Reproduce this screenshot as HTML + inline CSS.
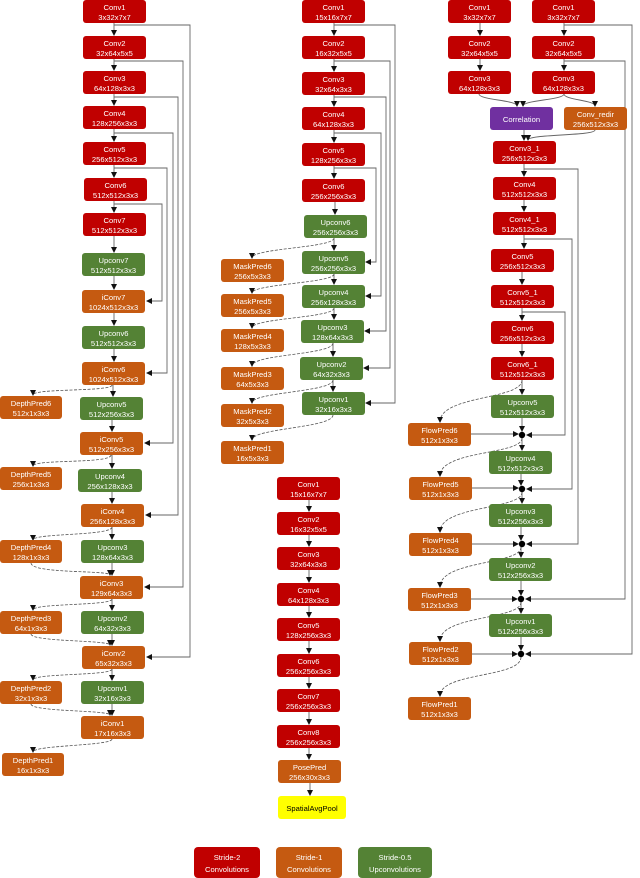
<!DOCTYPE html><html><head><meta charset="utf-8"><style>
html,body{margin:0;padding:0;background:#fff;width:640px;height:878px;overflow:hidden}
svg{display:block}
text{font-family:"Liberation Sans",sans-serif;font-size:7.6px;fill:#fff;text-anchor:middle}
.r{fill:#c00000}.o{fill:#c55a11}.g{fill:#548235}.p{fill:#7030a0}.y{fill:#ffff00}
.l{fill:none;stroke:#666;stroke-width:0.9;marker-end:url(#a)}
.d{fill:none;stroke:#555;stroke-width:0.8;stroke-dasharray:3,1.5;marker-end:url(#a)}
</style></head><body>
<svg width="640" height="878" viewBox="0 0 640 878" xmlns="http://www.w3.org/2000/svg">
<defs><marker id="a" markerWidth="6" markerHeight="6" refX="5" refY="3" orient="auto" markerUnits="userSpaceOnUse"><path d="M0,0 L6,3 L0,6z" fill="#111"/></marker></defs>

<!-- LEFT connectors -->
<path class="l" d="M114,23V35"/><path class="l" d="M114,59V70"/><path class="l" d="M114,94V105"/><path class="l" d="M114,129V141"/><path class="l" d="M114,165V177"/><path class="l" d="M114,201V212"/><path class="l" d="M114,236V252"/><path class="l" d="M114,276V289"/><path class="l" d="M114,313V325"/><path class="l" d="M114,349V361"/><path class="l" d="M113,385V396"/><path class="l" d="M112,420V431"/><path class="l" d="M112,492V503"/><path class="l" d="M112,563V575"/><path class="l" d="M112,634V645"/><path class="l" d="M112,704V715"/>
<path class="l" d="M112,455V468"/><path class="l" d="M112,527V539"/><path class="l" d="M112,599V610"/><path class="l" d="M112,669V680"/>
<path class="l" d="M114,25H190V657H147"/><path class="l" d="M114,61H183V587H145"/><path class="l" d="M114,97H178V515H146"/><path class="l" d="M114,133H173V443H145"/><path class="l" d="M114,168H167V373H147"/><path class="l" d="M114,204H162V301H147"/>
<path class="d" d="M112,385C112,392 33,388 33,395"/><path class="d" d="M111,455C111,464 33,459 33,466"/><path class="d" d="M112,527C112,536 33,533 33,540"/><path class="d" d="M112,599C112,606 33,603 33,610"/><path class="d" d="M112,669C112,676 33,673 33,680"/><path class="d" d="M112,739C112,746 33,745 33,752"/>
<path class="d" d="M31,563C31,574 110,570 110,575"/><path class="d" d="M31,634C31,642 110,640 110,645"/><path class="d" d="M31,704C31,712 110,710 110,715"/>

<!-- LEFT nodes -->
<g transform="translate(83,0)"><rect class="r" width="63" height="23" rx="3"/><text x="31.5" y="10">Conv1</text><text x="31.5" y="20">3x32x7x7</text></g>
<g transform="translate(83,36)"><rect class="r" width="63" height="23" rx="3"/><text x="31.5" y="10">Conv2</text><text x="31.5" y="20">32x64x5x5</text></g>
<g transform="translate(83,71)"><rect class="r" width="63" height="23" rx="3"/><text x="31.5" y="10">Conv3</text><text x="31.5" y="20">64x128x3x3</text></g>
<g transform="translate(83,106)"><rect class="r" width="63" height="23" rx="3"/><text x="31.5" y="10">Conv4</text><text x="31.5" y="20">128x256x3x3</text></g>
<g transform="translate(83,142)"><rect class="r" width="63" height="23" rx="3"/><text x="31.5" y="10">Conv5</text><text x="31.5" y="20">256x512x3x3</text></g>
<g transform="translate(84,178)"><rect class="r" width="63" height="23" rx="3"/><text x="31.5" y="10">Conv6</text><text x="31.5" y="20">512x512x3x3</text></g>
<g transform="translate(83,213)"><rect class="r" width="63" height="23" rx="3"/><text x="31.5" y="10">Conv7</text><text x="31.5" y="20">512x512x3x3</text></g>
<g transform="translate(82,253)"><rect class="g" width="63" height="23" rx="3"/><text x="31.5" y="10">Upconv7</text><text x="31.5" y="20">512x512x3x3</text></g>
<g transform="translate(82,290)"><rect class="o" width="63" height="23" rx="3"/><text x="31.5" y="10">iConv7</text><text x="31.5" y="20">1024x512x3x3</text></g>
<g transform="translate(82,326)"><rect class="g" width="63" height="23" rx="3"/><text x="31.5" y="10">Upconv6</text><text x="31.5" y="20">512x512x3x3</text></g>
<g transform="translate(82,362)"><rect class="o" width="63" height="23" rx="3"/><text x="31.5" y="10">iConv6</text><text x="31.5" y="20">1024x512x3x3</text></g>
<g transform="translate(0,396)"><rect class="o" width="62" height="23" rx="3"/><text x="31" y="10">DepthPred6</text><text x="31" y="20">512x1x3x3</text></g>
<g transform="translate(80,397)"><rect class="g" width="63" height="23" rx="3"/><text x="31.5" y="10">Upconv5</text><text x="31.5" y="20">512x256x3x3</text></g>
<g transform="translate(80,432)"><rect class="o" width="63" height="23" rx="3"/><text x="31.5" y="10">iConv5</text><text x="31.5" y="20">512x256x3x3</text></g>
<g transform="translate(0,467)"><rect class="o" width="62" height="23" rx="3"/><text x="31" y="10">DepthPred5</text><text x="31" y="20">256x1x3x3</text></g>
<g transform="translate(78,469)"><rect class="g" width="64" height="23" rx="3"/><text x="32" y="10">Upconv4</text><text x="32" y="20">256x128x3x3</text></g>
<g transform="translate(81,504)"><rect class="o" width="63" height="23" rx="3"/><text x="31.5" y="10">iConv4</text><text x="31.5" y="20">256x128x3x3</text></g>
<g transform="translate(0,540)"><rect class="o" width="62" height="23" rx="3"/><text x="31" y="10">DepthPred4</text><text x="31" y="20">128x1x3x3</text></g>
<g transform="translate(81,540)"><rect class="g" width="63" height="23" rx="3"/><text x="31.5" y="10">Upconv3</text><text x="31.5" y="20">128x64x3x3</text></g>
<g transform="translate(80,576)"><rect class="o" width="63" height="23" rx="3"/><text x="31.5" y="10">iConv3</text><text x="31.5" y="20">129x64x3x3</text></g>
<g transform="translate(0,611)"><rect class="o" width="62" height="23" rx="3"/><text x="31" y="10">DepthPred3</text><text x="31" y="20">64x1x3x3</text></g>
<g transform="translate(81,611)"><rect class="g" width="63" height="23" rx="3"/><text x="31.5" y="10">Upconv2</text><text x="31.5" y="20">64x32x3x3</text></g>
<g transform="translate(82,646)"><rect class="o" width="63" height="23" rx="3"/><text x="31.5" y="10">iConv2</text><text x="31.5" y="20">65x32x3x3</text></g>
<g transform="translate(0,681)"><rect class="o" width="62" height="23" rx="3"/><text x="31" y="10">DepthPred2</text><text x="31" y="20">32x1x3x3</text></g>
<g transform="translate(81,681)"><rect class="g" width="63" height="23" rx="3"/><text x="31.5" y="10">Upconv1</text><text x="31.5" y="20">32x16x3x3</text></g>
<g transform="translate(81,716)"><rect class="o" width="63" height="23" rx="3"/><text x="31.5" y="10">iConv1</text><text x="31.5" y="20">17x16x3x3</text></g>
<g transform="translate(2,753)"><rect class="o" width="62" height="23" rx="3"/><text x="31" y="10">DepthPred1</text><text x="31" y="20">16x1x3x3</text></g>

<!-- MIDDLE TOP connectors -->
<path class="l" d="M334,23V35"/><path class="l" d="M334,59V71"/><path class="l" d="M334,95V106"/><path class="l" d="M334,130V142"/><path class="l" d="M334,166V178"/><path class="l" d="M335,202V214"/><path class="l" d="M334,238V250"/><path class="l" d="M334,274V284"/><path class="l" d="M334,308V319"/><path class="l" d="M333,343V356"/><path class="l" d="M333,380V391"/>
<path class="l" d="M334,168H376V262H366"/><path class="l" d="M334,133H381V296H366"/><path class="l" d="M334,97H386V331H365"/><path class="l" d="M334,61H390V368H364"/><path class="l" d="M334,25H395V403H366"/>
<path class="d" d="M334,238C334,248 252,248 252,258"/><path class="d" d="M334,274C334,283 252,284 252,293"/><path class="d" d="M334,308C334,318 252,318 252,328"/><path class="d" d="M333,343C333,355 252,354 252,366"/><path class="d" d="M333,380C333,392 252,392 252,403"/><path class="d" d="M333,415C333,428 252,428 252,440"/>
<!-- MIDDLE TOP nodes -->
<g transform="translate(302,0)"><rect class="r" width="63" height="23" rx="3"/><text x="31.5" y="10">Conv1</text><text x="31.5" y="20">15x16x7x7</text></g>
<g transform="translate(302,36)"><rect class="r" width="63" height="23" rx="3"/><text x="31.5" y="10">Conv2</text><text x="31.5" y="20">16x32x5x5</text></g>
<g transform="translate(302,72)"><rect class="r" width="63" height="23" rx="3"/><text x="31.5" y="10">Conv3</text><text x="31.5" y="20">32x64x3x3</text></g>
<g transform="translate(302,107)"><rect class="r" width="63" height="23" rx="3"/><text x="31.5" y="10">Conv4</text><text x="31.5" y="20">64x128x3x3</text></g>
<g transform="translate(302,143)"><rect class="r" width="63" height="23" rx="3"/><text x="31.5" y="10">Conv5</text><text x="31.5" y="20">128x256x3x3</text></g>
<g transform="translate(302,179)"><rect class="r" width="63" height="23" rx="3"/><text x="31.5" y="10">Conv6</text><text x="31.5" y="20">256x256x3x3</text></g>
<g transform="translate(304,215)"><rect class="g" width="63" height="23" rx="3"/><text x="31.5" y="10">Upconv6</text><text x="31.5" y="20">256x256x3x3</text></g>
<g transform="translate(302,251)"><rect class="g" width="63" height="23" rx="3"/><text x="31.5" y="10">Upconv5</text><text x="31.5" y="20">256x256x3x3</text></g>
<g transform="translate(302,285)"><rect class="g" width="63" height="23" rx="3"/><text x="31.5" y="10">Upconv4</text><text x="31.5" y="20">256x128x3x3</text></g>
<g transform="translate(301,320)"><rect class="g" width="63" height="23" rx="3"/><text x="31.5" y="10">Upconv3</text><text x="31.5" y="20">128x64x3x3</text></g>
<g transform="translate(300,357)"><rect class="g" width="63" height="23" rx="3"/><text x="31.5" y="10">Upconv2</text><text x="31.5" y="20">64x32x3x3</text></g>
<g transform="translate(302,392)"><rect class="g" width="63" height="23" rx="3"/><text x="31.5" y="10">Upconv1</text><text x="31.5" y="20">32x16x3x3</text></g>
<g transform="translate(221,259)"><rect class="o" width="63" height="23" rx="3"/><text x="31.5" y="10">MaskPred6</text><text x="31.5" y="20">256x5x3x3</text></g>
<g transform="translate(221,294)"><rect class="o" width="63" height="23" rx="3"/><text x="31.5" y="10">MaskPred5</text><text x="31.5" y="20">256x5x3x3</text></g>
<g transform="translate(221,329)"><rect class="o" width="63" height="23" rx="3"/><text x="31.5" y="10">MaskPred4</text><text x="31.5" y="20">128x5x3x3</text></g>
<g transform="translate(221,367)"><rect class="o" width="63" height="23" rx="3"/><text x="31.5" y="10">MaskPred3</text><text x="31.5" y="20">64x5x3x3</text></g>
<g transform="translate(221,404)"><rect class="o" width="63" height="23" rx="3"/><text x="31.5" y="10">MaskPred2</text><text x="31.5" y="20">32x5x3x3</text></g>
<g transform="translate(221,441)"><rect class="o" width="63" height="23" rx="3"/><text x="31.5" y="10">MaskPred1</text><text x="31.5" y="20">16x5x3x3</text></g>

<!-- MIDDLE BOTTOM -->
<path class="l" d="M309,500V511"/><path class="l" d="M309,535V546"/><path class="l" d="M309,570V582"/><path class="l" d="M309,606V617"/><path class="l" d="M309,641V653"/><path class="l" d="M309,677V688"/><path class="l" d="M309,712V724"/><path class="l" d="M309,748V759"/><path class="l" d="M310,783V795"/>
<g transform="translate(277,477)"><rect class="r" width="63" height="23" rx="3"/><text x="31.5" y="10">Conv1</text><text x="31.5" y="20">15x16x7x7</text></g>
<g transform="translate(277,512)"><rect class="r" width="63" height="23" rx="3"/><text x="31.5" y="10">Conv2</text><text x="31.5" y="20">16x32x5x5</text></g>
<g transform="translate(277,547)"><rect class="r" width="63" height="23" rx="3"/><text x="31.5" y="10">Conv3</text><text x="31.5" y="20">32x64x3x3</text></g>
<g transform="translate(277,583)"><rect class="r" width="63" height="23" rx="3"/><text x="31.5" y="10">Conv4</text><text x="31.5" y="20">64x128x3x3</text></g>
<g transform="translate(277,618)"><rect class="r" width="63" height="23" rx="3"/><text x="31.5" y="10">Conv5</text><text x="31.5" y="20">128x256x3x3</text></g>
<g transform="translate(277,654)"><rect class="r" width="63" height="23" rx="3"/><text x="31.5" y="10">Conv6</text><text x="31.5" y="20">256x256x3x3</text></g>
<g transform="translate(277,689)"><rect class="r" width="63" height="23" rx="3"/><text x="31.5" y="10">Conv7</text><text x="31.5" y="20">256x256x3x3</text></g>
<g transform="translate(277,725)"><rect class="r" width="63" height="23" rx="3"/><text x="31.5" y="10">Conv8</text><text x="31.5" y="20">256x256x3x3</text></g>
<g transform="translate(278,760)"><rect class="o" width="63" height="23" rx="3"/><text x="31.5" y="10">PosePred</text><text x="31.5" y="20">256x30x3x3</text></g>
<g transform="translate(278,796)"><rect class="y" width="68" height="23" rx="3"/><text x="34" y="15" style="fill:#000">SpatialAvgPool</text></g>

<!-- RIGHT connectors -->
<path class="l" d="M480,23V35"/><path class="l" d="M480,59V70"/><path class="l" d="M564,23V35"/><path class="l" d="M564,59V70"/>
<path class="l" d="M479,94C479,100 517,100 517,106"/><path class="l" d="M564,94C564,100 523,100 523,106"/><path class="l" d="M564,94C564,100 595,100 595,106"/>
<path class="l" d="M524,130V140"/><path class="l" d="M595,130C595,136 528,134 528,140"/>
<path class="l" d="M524,164V176"/><path class="l" d="M524,200V211"/><path class="l" d="M524,235V248"/><path class="l" d="M522,272V284"/><path class="l" d="M522,308V320"/><path class="l" d="M522,344V356"/><path class="l" d="M522,380V394"/>
<path class="l" d="M564,25H632V654H526"/><path class="l" d="M564,61H625V599H526"/><path class="l" d="M524,169H578V544H527"/><path class="l" d="M524,239H572V489H527"/><path class="l" d="M522,312H565V435H527"/>
<path class="l" d="M471,434H518"/><path class="l" d="M472,488H518"/><path class="l" d="M472,544H518"/><path class="l" d="M471,599H517"/><path class="l" d="M472,654H517"/>
<path class="l" d="M522,418V431"/><path class="l" d="M521,474V485"/><path class="l" d="M521,527V540"/><path class="l" d="M521,581V595"/><path class="l" d="M521,637V650"/>
<path class="l" d="M522,438V450"/><path class="l" d="M522,492V503"/><path class="l" d="M521,547V557"/><path class="l" d="M521,602V613"/>
<path class="d" d="M522,380C522,400 440,395 440,422"/><path class="d" d="M522,438C522,455 440,450 440,476"/><path class="d" d="M522,492C522,510 440,505 440,532"/><path class="d" d="M521,547C521,565 440,560 440,587"/><path class="d" d="M521,602C521,620 440,615 440,641"/><path class="d" d="M521,657C521,678 440,672 440,696"/>
<circle cx="522" cy="435" r="3.2" fill="#000"/><circle cx="522" cy="489" r="3.2" fill="#000"/><circle cx="522" cy="544" r="3.2" fill="#000"/><circle cx="521" cy="599" r="3.2" fill="#000"/><circle cx="521" cy="654" r="3.2" fill="#000"/>

<!-- RIGHT nodes -->
<g transform="translate(448,0)"><rect class="r" width="63" height="23" rx="3"/><text x="31.5" y="10">Conv1</text><text x="31.5" y="20">3x32x7x7</text></g>
<g transform="translate(448,36)"><rect class="r" width="63" height="23" rx="3"/><text x="31.5" y="10">Conv2</text><text x="31.5" y="20">32x64x5x5</text></g>
<g transform="translate(448,71)"><rect class="r" width="63" height="23" rx="3"/><text x="31.5" y="10">Conv3</text><text x="31.5" y="20">64x128x3x3</text></g>
<g transform="translate(532,0)"><rect class="r" width="63" height="23" rx="3"/><text x="31.5" y="10">Conv1</text><text x="31.5" y="20">3x32x7x7</text></g>
<g transform="translate(532,36)"><rect class="r" width="63" height="23" rx="3"/><text x="31.5" y="10">Conv2</text><text x="31.5" y="20">32x64x5x5</text></g>
<g transform="translate(532,71)"><rect class="r" width="63" height="23" rx="3"/><text x="31.5" y="10">Conv3</text><text x="31.5" y="20">64x128x3x3</text></g>
<g transform="translate(490,107)"><rect class="p" width="63" height="23" rx="3"/><text x="31.5" y="15">Correlation</text></g>
<g transform="translate(564,107)"><rect class="o" width="63" height="23" rx="3"/><text x="31.5" y="10">Conv_redir</text><text x="31.5" y="20">256x512x3x3</text></g>
<g transform="translate(493,141)"><rect class="r" width="63" height="23" rx="3"/><text x="31.5" y="10">Conv3_1</text><text x="31.5" y="20">256x512x3x3</text></g>
<g transform="translate(493,177)"><rect class="r" width="63" height="23" rx="3"/><text x="31.5" y="10">Conv4</text><text x="31.5" y="20">512x512x3x3</text></g>
<g transform="translate(493,212)"><rect class="r" width="63" height="23" rx="3"/><text x="31.5" y="10">Conv4_1</text><text x="31.5" y="20">512x512x3x3</text></g>
<g transform="translate(491,249)"><rect class="r" width="63" height="23" rx="3"/><text x="31.5" y="10">Conv5</text><text x="31.5" y="20">256x512x3x3</text></g>
<g transform="translate(491,285)"><rect class="r" width="63" height="23" rx="3"/><text x="31.5" y="10">Conv5_1</text><text x="31.5" y="20">512x512x3x3</text></g>
<g transform="translate(491,321)"><rect class="r" width="63" height="23" rx="3"/><text x="31.5" y="10">Conv6</text><text x="31.5" y="20">256x512x3x3</text></g>
<g transform="translate(491,357)"><rect class="r" width="63" height="23" rx="3"/><text x="31.5" y="10">Conv6_1</text><text x="31.5" y="20">512x512x3x3</text></g>
<g transform="translate(491,395)"><rect class="g" width="63" height="23" rx="3"/><text x="31.5" y="10">Upconv5</text><text x="31.5" y="20">512x512x3x3</text></g>
<g transform="translate(489,451)"><rect class="g" width="63" height="23" rx="3"/><text x="31.5" y="10">Upconv4</text><text x="31.5" y="20">512x512x3x3</text></g>
<g transform="translate(489,504)"><rect class="g" width="63" height="23" rx="3"/><text x="31.5" y="10">Upconv3</text><text x="31.5" y="20">512x256x3x3</text></g>
<g transform="translate(489,558)"><rect class="g" width="63" height="23" rx="3"/><text x="31.5" y="10">Upconv2</text><text x="31.5" y="20">512x256x3x3</text></g>
<g transform="translate(489,614)"><rect class="g" width="63" height="23" rx="3"/><text x="31.5" y="10">Upconv1</text><text x="31.5" y="20">512x256x3x3</text></g>
<g transform="translate(408,423)"><rect class="o" width="63" height="23" rx="3"/><text x="31.5" y="10">FlowPred6</text><text x="31.5" y="20">512x1x3x3</text></g>
<g transform="translate(409,477)"><rect class="o" width="63" height="23" rx="3"/><text x="31.5" y="10">FlowPred5</text><text x="31.5" y="20">512x1x3x3</text></g>
<g transform="translate(409,533)"><rect class="o" width="63" height="23" rx="3"/><text x="31.5" y="10">FlowPred4</text><text x="31.5" y="20">512x1x3x3</text></g>
<g transform="translate(408,588)"><rect class="o" width="63" height="23" rx="3"/><text x="31.5" y="10">FlowPred3</text><text x="31.5" y="20">512x1x3x3</text></g>
<g transform="translate(409,642)"><rect class="o" width="63" height="23" rx="3"/><text x="31.5" y="10">FlowPred2</text><text x="31.5" y="20">512x1x3x3</text></g>
<g transform="translate(408,697)"><rect class="o" width="63" height="23" rx="3"/><text x="31.5" y="10">FlowPred1</text><text x="31.5" y="20">512x1x3x3</text></g>

<!-- LEGEND -->
<g transform="translate(194,847)"><rect class="r" width="66" height="31" rx="4"/><text x="33" y="13">Stride-2</text><text x="33" y="25">Convolutions</text></g>
<g transform="translate(276,847)"><rect class="o" width="66" height="31" rx="4"/><text x="33" y="13">Stride-1</text><text x="33" y="25">Convolutions</text></g>
<g transform="translate(358,847)"><rect class="g" width="74" height="31" rx="4"/><text x="37" y="13">Stride-0.5</text><text x="37" y="25">Upconvolutions</text></g>
</svg>
</body></html>
